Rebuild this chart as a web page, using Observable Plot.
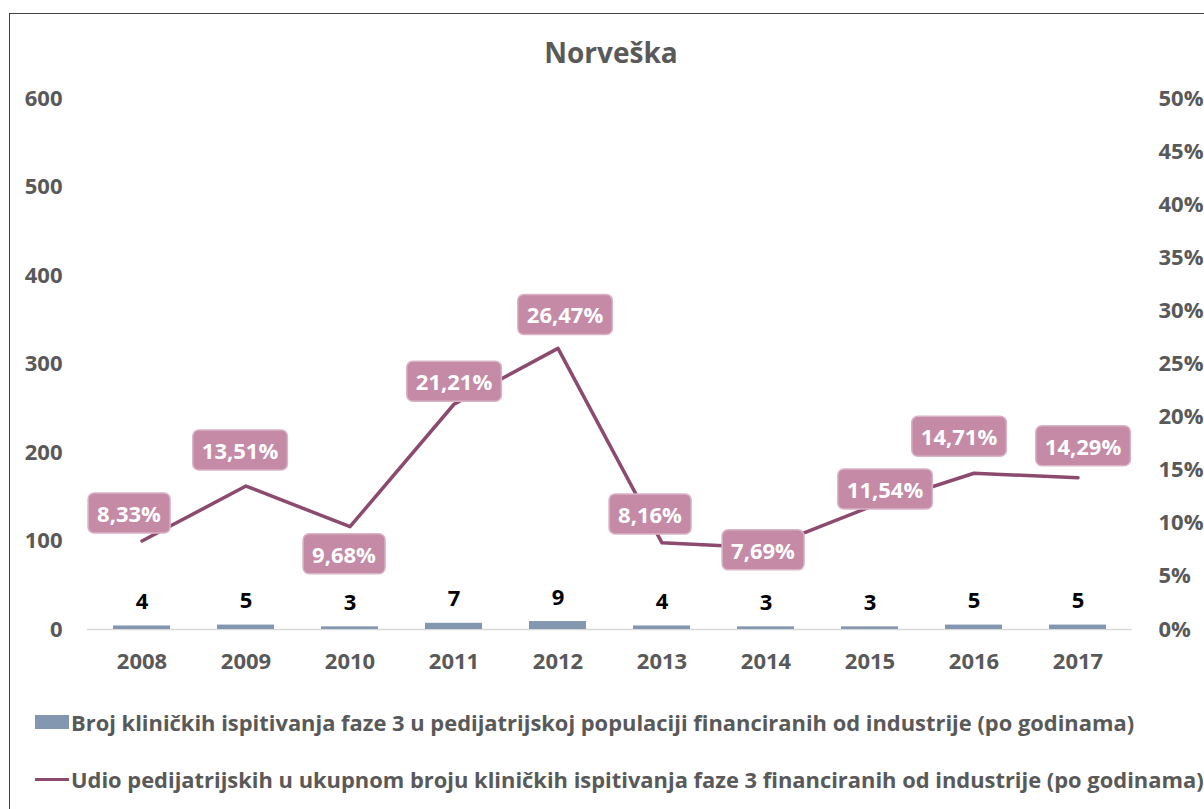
<!DOCTYPE html>
<html>
<head>
<meta charset="utf-8">
<script src="https://cdn.jsdelivr.net/npm/d3@7"></script>
<script src="https://cdn.jsdelivr.net/npm/@observablehq/plot@0.6"></script>
<style>
  html, body { margin: 0; padding: 0; background: #fff; }
  body { width: 1204px; height: 809px; overflow: hidden; position: relative;
         font-family: "Open Sans", sans-serif; font-weight: 700; color: #595959; }
  #frame { position: absolute; left: 9px; top: 13px; width: 1220px; height: 830px;
           border: 1.5px solid #404040; box-sizing: border-box; }
  #title { position: absolute; left: 0; top: 32px; width: 1222px; text-align: center;
           font-size: 28px; line-height: 40px; }
  #chart { position: absolute; left: 0; top: 75px; }
  .legend-row { position: absolute; left: 35px; display: flex; align-items: center;
                font-size: 21.9px; white-space: nowrap; }
  .sw-bar { width: 34px; height: 14px; background: #8497B0; margin-right: 2px; }
  .sw-line { width: 34px; height: 3px; background: #8B4A6E; margin-right: 2px; }
</style>
</head>
<body>
<div id="frame"></div>
<div id="title"></div>
<div id="chart"></div>
<div class="legend-row" id="leg1" style="top:705px;height:34px"><div class="sw-bar"></div><span></span></div>
<div class="legend-row" id="leg2" style="top:762px;height:34px"><div class="sw-line"></div><span></span></div>
<script>
// ---- data ----
const title = "Norveška";
const years = ["2008", "2009", "2010", "2011", "2012", "2013", "2014", "2015", "2016", "2017"];
const counts = [4, 5, 3, 7, 9, 4, 3, 3, 5, 5];
const shares = [8.33, 13.51, 9.68, 21.21, 26.47, 8.16, 7.69, 11.54, 14.71, 14.29];
const leftTicks = [0, 100, 200, 300, 400, 500, 600];
const rightTicks = [0, 5, 10, 15, 20, 25, 30, 35, 40, 45, 50];
const seriesNames = [
  "Broj kliničkih ispitivanja faze 3 u pedijatrijskoj populaciji financiranih od industrije (po godinama)",
  "Udio pedijatrijskih u ukupnom broju kliničkih ispitivanja faze 3 financiranih od industrije (po godinama)"
];

// ---- render ----
document.getElementById("title").textContent = title;
document.querySelector("#leg1 span").textContent = seriesNames[0];
document.querySelector("#leg2 span").textContent = seriesNames[1];

const data = years.map((y, i) => ({ year: y, count: counts[i], share: shares[i] }));
const RATIO = 600 / 50; // right axis (%) mapped onto left axis scale
const fmtPct = v => v.toFixed(2).replace(".", ",") + "%";

// label placement offsets (pixels) relative to each point
const labelOffset = {
  "2008": [-13, -26], "2009": [-6, -34], "2010": [-6, 29], "2011": [0, -21],
  "2012": [7, -32], "2013": [-12, -27], "2014": [-3, 4], "2015": [15, -16],
  "2016": [-15, -35], "2017": [5, -30]
};

const FONT = "'Open Sans', sans-serif";
const lineColor = "#8B4A6E";
const barColor = "#8497B0";

const chart = Plot.plot({
  width: 1204,
  height: 615,
  marginTop: 23,
  marginBottom: 61,
  marginLeft: 87,
  marginRight: 72,
  style: { fontFamily: FONT, fontSize: "22px", fontWeight: 700, color: "#595959", background: "transparent", overflow: "visible" },
  x: { domain: years, paddingInner: 0.45, paddingOuter: 0.225, label: null },
  y: { domain: [0, 600], label: null },
  marks: [
    Plot.axisX({ tickSize: 0, tickPadding: 24, label: null, fill: "#595959" }),
    Plot.axisY(leftTicks, { anchor: "left", tickSize: 0, tickPadding: 25, label: null, fill: "#595959" }),
    Plot.axisY(rightTicks.map(v => v * RATIO), { anchor: "right", tickSize: 0, tickPadding: 26, label: null,
      tickFormat: d => Math.round(d / RATIO) + "%", fill: "#595959" }),
    Plot.ruleY([0], { stroke: "#d9d9d9", strokeWidth: 1.5 }),
    Plot.barY(data, { x: "year", y: "count", fill: barColor }),
    Plot.text(data, { x: "year", y: "count", text: d => String(d.count), dy: -24, fill: "#000", fontSize: 22, fontWeight: 700 }),
    Plot.line(data, { x: "year", y: d => d.share * RATIO, stroke: lineColor, strokeWidth: 3.5, curve: "linear" }),
    ...data.map(d => Plot.text([d], {
      x: "year", y: dd => dd.share * RATIO, text: dd => fmtPct(dd.share),
      dx: labelOffset[d.year][0], dy: labelOffset[d.year][1],
      fill: "#fff", fontSize: 22, fontWeight: 700, ariaDescription: "pct-label"
    }))
  ]
});
document.getElementById("chart").appendChild(chart);

// rounded boxes behind the percentage labels
chart.querySelectorAll('g[aria-description="pct-label"] text').forEach(t => {
  const b = t.getBBox();
  const padX = 9, h = 40;
  const cy = b.y + b.height / 2;
  const r = document.createElementNS("http://www.w3.org/2000/svg", "rect");
  r.setAttribute("x", b.x - padX);
  r.setAttribute("y", cy - h / 2);
  r.setAttribute("width", b.width + 2 * padX);
  r.setAttribute("height", h);
  r.setAttribute("rx", 6);
  r.setAttribute("fill", "#C48AA6");
  r.setAttribute("stroke", "#D9B3C6");
  r.setAttribute("stroke-width", 1.5);
  if (t.getAttribute("transform")) r.setAttribute("transform", t.getAttribute("transform"));
  t.parentNode.insertBefore(r, t);
});
</script>
</body>
</html>
